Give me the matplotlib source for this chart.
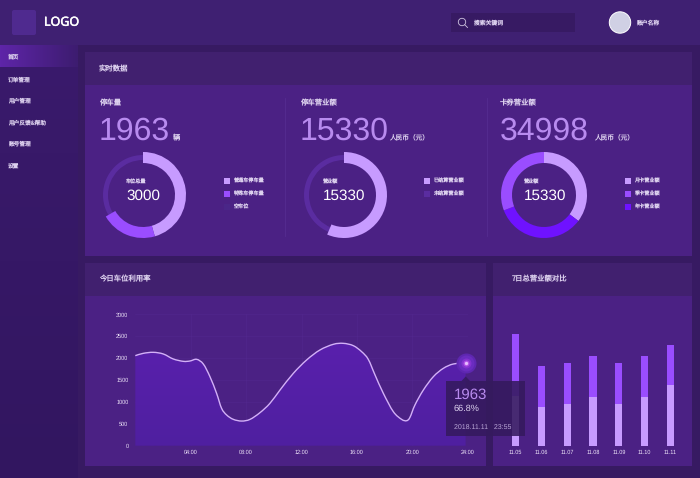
# parking dashboard
import numpy as np
import matplotlib
matplotlib.use('Agg')
import matplotlib.pyplot as plt
import matplotlib.patheffects as pe
from matplotlib.colors import LinearSegmentedColormap
from matplotlib.patches import Rectangle, FancyBboxPatch, Circle, Polygon, PathPatch
from matplotlib.path import Path

plt.rcParams['font.family'] = ['Noto Sans CJK SC', 'DejaVu Sans']
plt.rcParams['text.hinting'] = 'no_hinting'

# data
menu_items = ['订单管理', '用户管理', '用户反馈&帮助', '账号管理', '设置']

line_hours = [0, 0.58, 1.30, 2.02, 2.74, 3.47, 3.95, 4.43, 4.91, 5.39, 5.87, 6.23, 6.60,
              7.08, 7.68, 8.28, 9.00, 9.72, 10.45, 11.41, 12.37, 13.33, 14.30, 15.02,
              15.74, 16.34, 16.82, 17.31, 17.91, 18.63, 19.23, 19.59, 19.83, 20.19,
              20.80, 21.52, 22.24, 22.96, 23.85]
line_values = [2056, 2109, 2132, 2094, 1980, 1926, 1934, 1972, 1865, 1576, 1195, 853, 700,
               601, 563, 601, 754, 967, 1272, 1652, 1957, 2185, 2315, 2337,
               2284, 2147, 1972, 1614, 1195, 777, 601, 571, 647, 929,
               1272, 1576, 1766, 1865, 1885]
line_xticks = [4, 8, 12, 16, 20, 24]
line_xlabels = ['04:00', '08:00', '12:00', '16:00', '20:00', '24:00']
line_yticks = [0, 500, 1000, 1500, 2000, 2500, 3000]

bar_days = ['11.05', '11.06', '11.07', '11.08', '11.09', '11.10', '11.11']
bar_lower = [1480, 1150, 1260, 1470, 1260, 1470, 1810]
bar_upper = [1860, 1230, 1230, 1230, 1230, 1230, 1220]

donut1_values = [1367, 633, 1000]
donut2_values = [15330, 11850]
donut3_values = [12350, 11860, 10790]

LIGHT = '#c79bff'
MID = '#9a4dff'
DEEP = '#6f12ff'
TRACK = '#5a2ca0'
TEXT = '#dcd0ee'
TICK = '#efe6fa'
BIG = '#b88bef'
PANEL = '#4b2184'
HEAD = '#41206f'

W, H = 700, 478
fig = plt.figure(figsize=(7, 4.78), dpi=100, facecolor='#371a62')


def px_axes(x0, y0, x1, y1, z):
    a = fig.add_axes([x0 / W, 1 - y1 / H, (x1 - x0) / W, (y1 - y0) / H], zorder=z)
    a.patch.set_alpha(0)
    return a


def grad(a, box, c0, c1, vertical=False):
    cmap = LinearSegmentedColormap.from_list('g', [c0, c1])
    arr = np.linspace(0, 1, 64)
    arr = arr.reshape(-1, 1) if vertical else arr.reshape(1, -1)
    a.imshow(arr, cmap=cmap, aspect='auto', extent=box, zorder=1)


def smooth_path(xs, ys):
    # smooth line style: bezier segments through the read points
    xs = np.array(xs, dtype=float)
    ys = np.array(ys, dtype=float)
    verts = [(xs[0], ys[0])]
    codes = [Path.MOVETO]
    for i in range(len(xs) - 1):
        a = max(i - 1, 0)
        b = min(i + 2, len(xs) - 1)
        verts.append((xs[i] + (xs[i + 1] - xs[a]) / 6, ys[i] + (ys[i + 1] - ys[a]) / 6))
        verts.append((xs[i + 1] - (xs[b] - xs[i]) / 6, ys[i + 1] - (ys[b] - ys[i]) / 6))
        verts.append((xs[i + 1], ys[i + 1]))
        codes += [Path.CURVE4] * 3
    return verts, codes


# page background in pixel coordinates
bg = px_axes(0, 0, W, H, 0)
grad(bg, (0, 78, H, 45), '#3a1a6c', '#321660', True)
grad(bg, (0, 78, 67, 45), '#5e25a8', '#3d1c70')
bg.add_patch(Rectangle((0, 0), W, 45, color='#3f2072', zorder=2, lw=0))
for x0, y0, x1, y1, yh in [(85, 52, 692, 256, 85), (85, 263, 486, 466, 296), (493, 263, 692, 466, 296)]:
    bg.add_patch(Rectangle((x0, y0), x1 - x0, y1 - y0, color=PANEL, zorder=2, lw=0))
    bg.add_patch(Rectangle((x0, y0), x1 - x0, yh - y0, color=HEAD, zorder=3, lw=0))
for x in [285, 487]:
    bg.plot([x, x], [98, 236], color='#552c90', lw=0.6, zorder=3)
bg.set_xlim(0, W)
bg.set_ylim(H, 0)
bg.axis('off')

# top bar
bg.add_patch(FancyBboxPatch((14, 12), 20, 21, boxstyle='round,pad=2,rounding_size=2', color='#4f2a8f', lw=0, zorder=3))
bg.text(44, 22.5, 'LOGO', color='white', fontsize=9, va='center', family='Noto Sans', zorder=4,
        path_effects=[pe.withStroke(linewidth=0.35, foreground='white')])
bg.add_patch(Rectangle((451, 13), 124, 19, color='#371a63', lw=0, zorder=3))
bg.add_patch(Circle((462, 22), 3.7, fill=False, ec='#cfc4e0', lw=0.6, zorder=4))
bg.plot([465, 467.5], [25, 27.5], color='#cfc4e0', lw=0.6, zorder=4)
bg.text(474, 22.5, '搜索关键词', color=TEXT, fontsize=4.2, va='center', zorder=4)
bg.add_patch(Circle((620, 22.5), 10.7, fc='#d0d0e4', ec='white', lw=0.7, zorder=4))
bg.text(636.5, 23, '账户名称', color=TEXT, fontsize=4.2, va='center', zorder=4)

# side menu
bg.text(8, 56.5, '首页', color=TEXT, fontsize=4.1, va='center', zorder=4)
for item, y in zip(menu_items, [80, 101, 123, 144, 165.5]):
    bg.text(8, y, item, color=TEXT, fontsize=4.1, va='center', zorder=4)

# panel titles
bg.text(99, 69, '实时数据', color=TEXT, fontsize=5.3, va='center', zorder=4)
bg.text(99, 279, '今日车位利用率', color=TEXT, fontsize=5.3, va='center', zorder=4)
bg.text(512, 279, '7日总营业额对比', color=TEXT, fontsize=5.3, va='center', zorder=4)

# headline numbers
heads = [(99, '停车量', '1963', 172.7, '辆', 5.2),
         (300, '停车营业额', '15330', 389, '人民币（元）', 4.8),
         (500, '卡券营业额', '34998', 594, '人民币（元）', 4.8)]
for x, title, num, ux, unit, us in heads:
    bg.text(x, 103.5, title, color=TEXT, fontsize=5.3, va='center', zorder=4)
    bg.text(x, 140, num, color=BIG, fontsize=23, va='baseline', family='Liberation Sans', zorder=4)
    bg.text(ux, 137, unit, color=TEXT, fontsize=us, va='center', zorder=4)


def donut(cx, values, colors, track=None, r=43.0, cy=195):
    a = px_axes(cx - 46, cy - 46, cx + 46, cy + 46, 1)
    if track is not None:
        a.pie([1], radius=40.0 / 46, colors=[TRACK], wedgeprops={'width': 5.0 / 46, 'lw': 0})
    a.pie(values, radius=r / 46, colors=colors, startangle=90, counterclock=False,
          wedgeprops={'width': 11.0 / 46, 'lw': 0})
    a.set_xlim(-1, 1)
    a.set_ylim(-1, 1)
    a.set_aspect('equal')
    a.axis('off')


donut(143, donut1_values, [LIGHT, MID, 'none'], track=True)
donut(344, donut2_values, [LIGHT, 'none'], track=True)
donut(544, donut3_values, [LIGHT, DEEP, MID])

# donut centre labels
for x, small, val in [(126, '车位总量', '3000'), (323, '营业额', '15330'), (524, '营业额', '15330')]:
    bg.text(x, 182, small, color=TEXT, fontsize=3.7, va='center', zorder=4)
    bg.text(x, 195.5, val, color='white', fontsize=11, va='center', family='Liberation Sans', zorder=4)

# donut legends
legends = [(224, [(LIGHT, '普通车停车量'), (MID, '特殊车停车量'), ('#4a2688', '空车位')]),
           (424, [(LIGHT, '已结算营业额'), (TRACK, '未结算营业额')]),
           (625, [(LIGHT, '月卡营业额'), (MID, '季卡营业额'), (DEEP, '年卡营业额')])]
for x, rows in legends:
    for (c, label), y in zip(rows, [180.7, 194, 207]):
        bg.add_patch(Rectangle((x, y - 3), 6, 6, color=c, lw=0, zorder=4))
        bg.text(x + 9.5, y, label, color=TEXT, fontsize=3.7, va='center', zorder=4)

# line chart
ax = px_axes(135.3, 314.3, 467.7, 445.7, 1)
verts, codes = smooth_path(line_hours, line_values)
area = Path(verts + [(line_hours[-1], 0), (0, 0), verts[0]],
            codes + [Path.LINETO, Path.LINETO, Path.CLOSEPOLY])
cmap = LinearSegmentedColormap.from_list('a', ['#5c20b0', '#4f1fa0'])
im = ax.imshow(np.linspace(0, 1, 64).reshape(-1, 1), cmap=cmap, aspect='auto', extent=(0, 24, 0, 3000), zorder=1)
im.set_clip_path(area, transform=ax.transData)
ax.add_patch(PathPatch(Path(verts, codes), fill=False, ec='#d3b0f8', lw=1.0, zorder=3))
# halo at the last point
for s, c in [(20.0, '#5e27b0'), (16.0, '#6a2cc0'), (10.0, '#8433d0'), (6.0, '#b050e6'), (3.4, '#e6bcff')]:
    ax.scatter(line_hours[-1], line_values[-1], s=(s * 0.72) ** 2, color=c, lw=0, zorder=4, clip_on=False)
ax.set_xlim(0, 24)
ax.set_ylim(0, 3000)
ax.set_xticks(line_xticks, line_xlabels)
ax.set_yticks(line_yticks)
ax.grid(color='#5a2e98', lw=0.4, alpha=0.45)
ax.set_axisbelow(True)
ax.tick_params(axis='x', length=0, labelsize=4, labelcolor=TICK, pad=3)
ax.tick_params(axis='y', length=0, labelsize=4, labelcolor=TICK, pad=5)
for lab in ax.get_xticklabels() + ax.get_yticklabels():
    lab.set_family('Liberation Sans')
for sp in ax.spines.values():
    sp.set_visible(False)

# bar chart
bx = px_axes(502.8, 314.3, 684.6, 445.7, 1)
pos = np.arange(len(bar_days))
bx.bar(pos, bar_lower, width=0.283, color=LIGHT, lw=0)
bx.bar(pos, bar_upper, width=0.283, bottom=bar_lower, color=MID, lw=0)
bx.set_xlim(-0.5, 6.55)
bx.set_ylim(0, 3940)
bx.set_xticks(pos, bar_days)
bx.set_yticks([])
bx.tick_params(length=0, labelsize=4, labelcolor=TICK, pad=3)
for lab in bx.get_xticklabels():
    lab.set_family('Liberation Sans')
for sp in bx.spines.values():
    sp.set_visible(False)

# tooltip over everything
top = px_axes(0, 0, W, H, 3)
top.add_patch(Rectangle((446, 381), 78.5, 55, color='#351a5e', alpha=0.88, lw=0))
top.add_patch(Polygon([[461.5, 381], [465.7, 376.5], [470, 381]], color='#351a5e', alpha=0.88, lw=0))
top.text(454.3, 394.5, '1963', color=BIG, fontsize=10.8, va='center', family='Liberation Sans')
top.text(454, 409, '66.8%', color=TEXT, fontsize=6.6, va='center', family='Liberation Sans')
top.text(454, 427, '2018.11.11   23:55', color='#b9a6d6', fontsize=5, va='center', family='Liberation Sans')
top.set_xlim(0, W)
top.set_ylim(H, 0)
top.axis('off')

fig.savefig('out.png', dpi=100, facecolor=fig.get_facecolor())
